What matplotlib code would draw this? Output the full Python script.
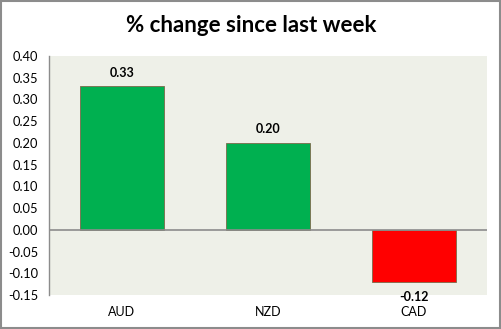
import matplotlib
matplotlib.use('Agg')
import matplotlib.pyplot as plt
from matplotlib.patches import Rectangle

currencies = ['AUD', 'NZD', 'CAD']
changes = [0.33, 0.20, -0.12]
value_labels = ['0.33', '0.20', '-0.12']
yticks = [-0.15, -0.10, -0.05, 0.0, 0.05, 0.10, 0.15, 0.20, 0.25, 0.30, 0.35, 0.40]

plt.rcParams['font.family'] = ['Lato', 'DejaVu Sans']

fig = plt.figure(figsize=(5.02, 3.29), dpi=100)
fig.patch.set_facecolor('white')
# grey frame round the whole chart
fig.patches.append(Rectangle((0.002, 0.004), 0.995, 0.993, transform=fig.transFigure,
                             fill=False, edgecolor='#8c8c8c', linewidth=1.5))

ax = fig.add_axes([0.0976, 0.1033, 0.8725, 0.7265])
ax.set_facecolor('#eef0e8')

cols = ['#00b050' if v >= 0 else '#ff0000' for v in changes]
x = range(len(currencies))
ax.bar(x, changes, width=0.575, color=cols, edgecolor='#7a6a4a', linewidth=0.6, zorder=2)

ax.set_xlim(-0.5, 2.5)
ax.set_ylim(-0.15, 0.40)
ax.set_yticks(yticks)
ax.set_yticklabels(['%.2f' % t for t in yticks])
ax.set_xticks([])

ax.axhline(0, color='#8c8c8c', linewidth=1.2, zorder=3)
for s in ['top', 'right', 'bottom']:
    ax.spines[s].set_visible(False)
ax.spines['left'].set_color('#8c8c8c')
ax.spines['left'].set_linewidth(1.0)
ax.tick_params(axis='y', length=0, pad=8, labelsize=9.3)

# value labels on the bars
for i, (v, lab) in enumerate(zip(changes, value_labels)):
    if v >= 0:
        ax.text(i, v + 0.032, lab, ha='center', va='center', fontsize=9, fontweight='bold')
    else:
        ax.text(i, v - 0.034, lab, ha='center', va='center', fontsize=9, fontweight='bold')

# category names under the plot area
for i, c in enumerate(currencies):
    ax.text(i, -0.189, c, ha='center', va='center', fontsize=9, clip_on=False)

fig.text(0.5, 0.924, '% change since last week', ha='center', va='center',
         fontsize=16, fontweight='bold')

fig.savefig('out.png', dpi=100)
